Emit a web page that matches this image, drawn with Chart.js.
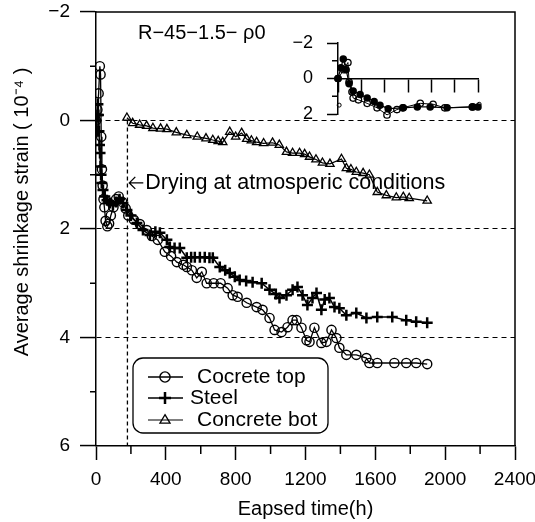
<!DOCTYPE html>
<html>
<head>
<meta charset="utf-8">
<script src="https://cdn.jsdelivr.net/npm/chart.js@4.4.1/dist/chart.umd.min.js"></script>
<style>
  body { margin: 0; background: #fff; }
  #wrap { position: relative; width: 535px; height: 522px; }
  #main { position: absolute; left: 0; top: 0; width: 535px; height: 522px; }
  #inset { position: absolute; left: 280px; top: 30px; width: 215px; height: 105px; }
</style>
</head>
<body>
<div id="wrap">
  <canvas id="main" width="535" height="522"></canvas>
  <canvas id="inset" width="215" height="105"></canvas>
</div>
<script>
// --- data (time in h, strain in 1e-4) ---
const seriesNames = ['Cocrete top', 'Steel', 'Concrete bot'];

const topTime = [0, 8, 15, 22, 26, 30, 34, 38, 43, 48, 55, 65, 75, 85, 100, 115, 130, 150, 170, 185,
  217, 251, 291, 320, 354, 394, 430, 463, 500, 520, 549, 577, 606, 634, 674, 714, 754, 783, 811, 863,
  920, 954, 994, 1023, 1063, 1097, 1126, 1149, 1177, 1206, 1223, 1251, 1291, 1320, 1349, 1377, 1394, 1434, 1491, 1549,
  1566, 1611, 1709, 1777, 1834, 1897];
const topVal = [0, -0.2, -0.5, -1.0, -0.85, 0.3, 0.9, 1.2, 1.45, 1.6, 1.85, 1.95, 1.9, 1.75, 1.6, 1.45, 1.4, 1.5, 1.62, 1.75,
  1.83, 1.91, 2.02, 2.13, 2.2, 2.42, 2.5, 2.61, 2.66, 2.7, 2.76, 2.9, 2.79, 3.0, 3.0, 3.0, 3.09, 3.22, 3.25, 3.36,
  3.44, 3.49, 3.64, 3.86, 3.9, 3.81, 3.68, 3.68, 3.82, 4.05, 4.08, 3.82, 4.1, 4.08, 3.86, 4.01, 4.19, 4.32, 4.32, 4.38,
  4.47, 4.47, 4.47, 4.47, 4.47, 4.49];

const steelTime = [0, 4, 8, 11, 14, 17, 20, 23, 26, 29, 33, 40, 50, 63, 80, 97, 115, 135, 154, 177,
  200, 234, 269, 309, 340, 366, 406, 423, 450, 480, 520, 545, 566, 595, 623, 650, 669, 709, 740, 766,
  795, 823, 860, 897, 949, 994, 1030, 1051, 1091, 1126, 1154, 1183, 1211, 1240, 1263, 1291, 1310, 1337, 1366, 1394,
  1434, 1491, 1549, 1611, 1697, 1777, 1834, 1897];
const steelVal = [0, 0.2, -0.1, -0.3, -0.1, 0.2, 0.45, 0.6, 0.85, 1.0, 1.15, 1.28, 1.4, 1.47, 1.52, 1.56, 1.5, 1.45, 1.52, 1.65,
  1.75, 1.89, 2.02, 2.11, 2.05, 2.07, 2.2, 2.33, 2.35, 2.35, 2.53, 2.52, 2.52, 2.52, 2.52, 2.53, 2.53, 2.7, 2.76, 2.81,
  2.88, 2.94, 2.96, 2.98, 3.0, 3.12, 3.2, 3.27, 3.22, 3.12, 3.07, 3.22, 3.4, 3.27, 3.18, 3.49, 3.3, 3.27, 3.44, 3.46,
  3.59, 3.55, 3.64, 3.62, 3.62, 3.68, 3.71, 3.73];

const botTime = [177, 210, 250, 290, 326, 370, 406, 460, 520, 580, 630, 669, 700, 726, 766, 800, 834, 863, 890, 920,
  960, 1011, 1050, 1091, 1126, 1166, 1195, 1223, 1260, 1297, 1340, 1406, 1434, 1460, 1491, 1530, 1566, 1611, 1663, 1720,
  1760, 1794, 1897];
const botVal = [-0.05, 0.05, 0.08, 0.1, 0.14, 0.15, 0.16, 0.22, 0.27, 0.3, 0.33, 0.36, 0.38, 0.4, 0.21, 0.3, 0.23, 0.34, 0.37, 0.4,
  0.42, 0.41, 0.45, 0.58, 0.6, 0.6, 0.62, 0.67, 0.72, 0.78, 0.8, 0.71, 0.88, 0.9, 0.95, 0.97, 1.0, 1.32, 1.38, 1.42,
  1.41, 1.43, 1.48];

// drying start marker (vertical dashed line)
const dryTime = [180, 180];
const dryVal = [0, 6];

// inset: first 240 h
const insetTopTime = [0, 10, 17, 19, 24, 26, 35, 50, 67, 84, 101, 111, 141, 163, 183, 231];
const insetTopVal = [0, -0.5, -0.9, 0.2, 0.75, 1.1, 1.2, 1.4, 1.65, 2.05, 1.75, 1.65, 1.4, 1.45, 1.65, 1.6];
const insetSteelTime = [0, 5, 9, 14, 19, 26, 38, 50, 62, 72, 86, 112, 136, 158, 187, 230, 240];
const insetSteelVal = [0, -0.6, -1.1, -0.5, 0.3, 0.7, 0.9, 1.1, 1.3, 1.5, 1.7, 1.65, 1.6, 1.6, 1.65, 1.6, 1.6];
const insetBotTime = [2, 242];
const insetBotVal = [1.5, 1.45];

// axes
const xTicksMain = [0, 2400, 400];   // min, max, step
const yTicksMain = [-2, 6, 2];
const xMinorMain = [200, 600, 1000, 1400, 1800, 2200];
const yMinorMain = [-1, 1, 3, 5];
const yMinorInset = [-1, 1];

const caseLabel = 'R\u221245\u22121.5\u2212 \u03c10';
const noteText = 'Drying at atmosperic conditions';
const xTitle = 'Eapsed time(h)';
const yTitle = 'Average shrinkage strain ( 10\u207b\u2074 )';

const FONT = "'Liberation Sans', Arial, sans-serif";
Chart.defaults.font.family = FONT;
Chart.defaults.color = '#000';

const pts = (xs, ys) => xs.map((t, i) => ({ x: t, y: ys[i] }));
const minus = v => String(v).replace('-', '\u2212');

function marker(ctx, style, x, y, r) {
  ctx.beginPath();
  if (style === 'circle') {
    ctx.arc(x, y, r, 0, Math.PI * 2);
  } else if (style === 'cross') {
    ctx.moveTo(x - r, y); ctx.lineTo(x + r, y);
    ctx.moveTo(x, y - r); ctx.lineTo(x, y + r);
  } else {
    ctx.moveTo(x, y - r); ctx.lineTo(x + r * 0.95, y + r * 0.6); ctx.lineTo(x - r * 0.95, y + r * 0.6); ctx.closePath();
  }
  ctx.stroke();
}

const styleTop = { pointStyle: 'circle', pointRadius: 4.6, pointBorderWidth: 1.4, pointBackgroundColor: 'rgba(255,255,255,0)' };
const styleSteel = { pointStyle: 'cross', pointRadius: 5.5, pointBorderWidth: 2.5 };
const styleBot = { pointStyle: 'triangle', pointRadius: 4.8, pointBorderWidth: 1.3, pointBackgroundColor: 'rgba(255,255,255,0)' };

const decor = {
  id: 'decor',
  afterDraw(chart) {
    const { ctx, chartArea: a, scales: { x, y } } = chart;
    ctx.save();
    ctx.strokeStyle = '#000';
    ctx.lineWidth = 1.5;
    ctx.beginPath();
    ctx.moveTo(a.left, a.top); ctx.lineTo(a.right, a.top); ctx.lineTo(a.right, a.bottom);
    ctx.stroke();
    ctx.beginPath();
    yMinorMain.forEach(v => { const py = y.getPixelForValue(v); ctx.moveTo(a.left - 6, py); ctx.lineTo(a.left, py); });
    xMinorMain.forEach(v => { const px = x.getPixelForValue(v); ctx.moveTo(px, a.bottom); ctx.lineTo(px, a.bottom + 8); });
    ctx.stroke();

    ctx.fillStyle = '#000';
    ctx.textBaseline = 'middle';
    ctx.textAlign = 'left';
    ctx.font = '20px ' + FONT;
    ctx.fillText(caseLabel, a.left + 42, a.top + 21);

    // arrow + note
    const ax = x.getPixelForValue(185), ay = y.getPixelForValue(1.15);
    ctx.lineWidth = 1.3;
    ctx.beginPath();
    ctx.moveTo(ax + 1, ay); ctx.lineTo(ax + 15, ay);
    ctx.moveTo(ax + 7, ay - 6); ctx.lineTo(ax + 1, ay); ctx.lineTo(ax + 7, ay + 6);
    ctx.stroke();
    ctx.font = '21.5px ' + FONT;
    ctx.fillText(noteText, ax + 17, ay);

    ctx.textAlign = 'center';
    ctx.font = '20px ' + FONT;
    ctx.fillText(xTitle, (a.left + a.right) / 2, 509);
    ctx.save();
    ctx.translate(22, 212);
    ctx.rotate(-Math.PI / 2);
    ctx.fillText(yTitle, 0, 0);
    ctx.restore();

    // legend box
    const bx = a.left + 37, by = a.top + 346, bw = 195, bh = 75;
    ctx.fillStyle = '#fff';
    ctx.lineWidth = 1.3;
    ctx.beginPath();
    ctx.roundRect(bx, by, bw, bh, 10);
    ctx.fill();
    ctx.stroke();
    ctx.fillStyle = '#000';
    ctx.textAlign = 'left';
    ctx.font = '21px ' + FONT;
    const rows = [19, 40, 62];
    const textX = [64, 57, 64];
    chart.data.datasets.slice(0, 3).forEach((ds, i) => {
      const ly = by + rows[i];
      ctx.lineWidth = ds.borderWidth;
      ctx.beginPath();
      ctx.moveTo(bx + 15, ly); ctx.lineTo(bx + 50, ly);
      ctx.stroke();
      ctx.lineWidth = ds.pointBorderWidth;
      marker(ctx, ds.pointStyle, bx + 32, ly, ds.pointRadius + 0.5);
      ctx.fillText(ds.label, bx + textX[i], ly);
    });
    ctx.restore();
  }
};

new Chart(document.getElementById('main'), {
  type: 'line',
  data: {
    datasets: [
      Object.assign({ label: seriesNames[0], data: pts(topTime, topVal), borderColor: '#000', borderWidth: 1.3, pointBorderColor: '#000' }, styleTop),
      Object.assign({ label: seriesNames[1], data: pts(steelTime, steelVal), borderColor: '#000', borderWidth: 1.5, pointBorderColor: '#000' }, styleSteel),
      Object.assign({ label: seriesNames[2], data: pts(botTime, botVal), borderColor: '#000', borderWidth: 1.2, pointBorderColor: '#000' }, styleBot),
      { label: 'drying', data: pts(dryTime, dryVal), borderColor: '#000', borderWidth: 1.3, borderDash: [4, 3], pointRadius: 0 }
    ]
  },
  options: {
    responsive: false,
    animation: false,
    layout: { padding: { left: 0, top: 12, right: 20, bottom: 0 } },
    plugins: { legend: { display: false }, tooltip: { enabled: false } },
    scales: {
      x: {
        type: 'linear', min: xTicksMain[0], max: xTicksMain[1],
        ticks: { stepSize: xTicksMain[2], padding: 8, font: { size: 19 }, maxRotation: 0, callback: v => String(v) },
        grid: { drawOnChartArea: false, tickLength: 14, tickWidth: 1.5, tickColor: '#000' },
        border: { color: '#000', width: 1.5 },
        afterFit(s) { s.height = 76; s.paddingLeft = 0; s.paddingRight = 0; }
      },
      y: {
        type: 'linear', min: yTicksMain[0], max: yTicksMain[1], reverse: true,
        ticks: { stepSize: yTicksMain[2], padding: 10, font: { size: 19 }, callback: minus },
        grid: {
          color: c => [0, 2, 4].includes(c.tick && c.tick.value) ? '#000' : 'rgba(0,0,0,0)',
          lineWidth: 1.1, tickLength: 16, tickWidth: 1.5, tickColor: '#000'
        },
        border: { color: '#000', width: 1.5, dash: [5, 4] },
        afterFit(s) { s.width = 96; s.paddingTop = 0; s.paddingBottom = 0; }
      }
    }
  },
  plugins: [decor]
});

const insetDecor = {
  id: 'insetDecor',
  afterDraw(chart) {
    const { ctx, chartArea: a, scales: { y } } = chart;
    ctx.save();
    ctx.strokeStyle = '#000';
    ctx.lineWidth = 1.5;
    ctx.beginPath();
    yMinorInset.forEach(v => { const py = y.getPixelForValue(v); ctx.moveTo(a.left - 6, py); ctx.lineTo(a.left, py); });
    ctx.stroke();
    ctx.restore();
  }
};

new Chart(document.getElementById('inset'), {
  type: 'line',
  data: {
    datasets: [
      { data: pts(insetTopTime, insetTopVal), borderColor: '#000', borderWidth: 1, pointBorderColor: '#000', pointStyle: 'circle', pointRadius: 3.2, pointBorderWidth: 1.3, pointBackgroundColor: 'rgba(255,255,255,0)' },
      { data: pts(insetSteelTime, insetSteelVal), borderColor: '#000', borderWidth: 1.2, pointBorderColor: '#000', pointStyle: 'circle', pointRadius: 3, pointBorderWidth: 1.5, pointBackgroundColor: '#000' },
      { data: pts(insetBotTime, insetBotVal), showLine: false, pointBorderColor: '#000', pointStyle: 'circle', pointRadius: 2, pointBorderWidth: 1, pointBackgroundColor: 'rgba(255,255,255,0)' }
    ]
  },
  options: {
    responsive: false,
    animation: false,
    clip: false,
    layout: { padding: { left: 0, top: 13, right: 17, bottom: 21 } },
    plugins: { legend: { display: false }, tooltip: { enabled: false } },
    scales: {
      x: {
        type: 'linear', min: 0, max: 240, position: { y: 0 },
        ticks: { stepSize: 40, display: false },
        grid: { drawOnChartArea: false, tickLength: 13, tickWidth: 1.5, tickColor: '#000' },
        border: { color: '#000', width: 1.5 }
      },
      y: {
        type: 'linear', min: -2, max: 2, reverse: true, position: 'left',
        ticks: { stepSize: 2, padding: 14, font: { size: 18 }, callback: minus },
        grid: { drawOnChartArea: false, tickLength: 11, tickWidth: 1.5, tickColor: '#000' },
        border: { color: '#000', width: 1.5 },
        afterFit(s) { s.width = 58; s.paddingTop = 0; s.paddingBottom = 0; }
      }
    }
  },
  plugins: [insetDecor]
});
</script>
</body>
</html>
